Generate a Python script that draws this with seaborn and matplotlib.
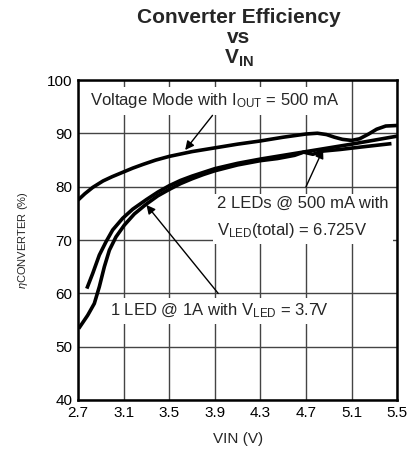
import pandas as pd
import matplotlib
matplotlib.use("Agg")
import matplotlib.pyplot as plt
import seaborn as sns

# Curve data (VIN in volts, efficiency in %)
vm_vin = [2.7, 2.76, 2.83, 2.92, 3.0, 3.09, 3.18, 3.27, 3.38, 3.5, 3.7, 3.9, 4.1, 4.3, 4.5, 4.7,
          4.8, 4.88, 4.95, 5.02, 5.1, 5.17, 5.25, 5.32, 5.4, 5.5]
vm_eff = [77.5, 78.7, 79.9, 81.1, 81.9, 82.7, 83.5, 84.2, 85.0, 85.7, 86.6, 87.3, 88.0, 88.6, 89.3, 89.9,
          90.05, 89.8, 89.3, 88.9, 88.7, 89.0, 89.9, 90.8, 91.4, 91.5]

led2_vin = [2.777, 2.829, 2.887, 2.946, 3.004, 3.092, 3.18, 3.3, 3.4, 3.5, 3.6, 3.7, 3.8, 3.9,
            4.1, 4.3, 4.5, 4.7, 4.9, 5.1, 5.3, 5.5]
led2_eff = [60.9, 63.75, 67.2, 69.7, 71.9, 74.1, 75.8, 77.6, 79.0, 80.2, 81.2, 82.0, 82.7, 83.4,
            84.4, 85.2, 85.9, 86.6, 87.3, 88.0, 88.75, 89.5]

led1_vin = [2.706, 2.785, 2.843, 2.887, 2.931, 2.975, 3.033, 3.106, 3.194, 3.296, 3.4, 3.5, 3.6,
            3.7, 3.8, 3.9, 4.1, 4.3, 4.45, 4.6, 4.68, 4.76, 4.85, 5.0, 5.2, 5.45]
led1_eff = [53.4, 55.9, 58.1, 61.25, 65.0, 68.1, 70.6, 72.8, 74.9, 76.7, 78.3, 79.5, 80.6,
            81.5, 82.3, 83.0, 84.1, 84.9, 85.3, 85.9, 86.5, 86.1, 86.7, 87.0, 87.5, 88.1]

x_ticks = [2.7, 3.1, 3.5, 3.9, 4.3, 4.7, 5.1, 5.5]
y_ticks = [40, 50, 60, 70, 80, 90, 100]

sns.set_style("white")
plt.rcParams['font.family'] = ['Liberation Sans', 'DejaVu Sans']
plt.rcParams['mathtext.fontset'] = 'custom'
plt.rcParams['mathtext.rm'] = 'Liberation Sans'
plt.rcParams['mathtext.it'] = 'Liberation Sans:italic'
plt.rcParams['mathtext.bf'] = 'Liberation Sans:bold'

df = pd.concat([
    pd.DataFrame({'vin': vm_vin, 'eff': vm_eff, 'curve': 'vm'}),
    pd.DataFrame({'vin': led2_vin, 'eff': led2_eff, 'curve': 'led2'}),
    pd.DataFrame({'vin': led1_vin, 'eff': led1_eff, 'curve': 'led1'}),
])

fig = plt.figure(figsize=(4.15, 4.53), dpi=100)
ax = fig.add_axes([0.188, 0.117, 0.769, 0.706])

sns.lineplot(data=df, x='vin', y='eff', units='curve', estimator=None,
             color='black', linewidth=2.6, sort=False, ax=ax, zorder=3,
             solid_joinstyle='round', solid_capstyle='butt')

ax.set_xlim(2.7, 5.5)
ax.set_ylim(40, 100)
ax.set_xticks(x_ticks)
ax.set_xticklabels([f"{t:.1f}" for t in x_ticks])
ax.set_yticks(y_ticks)
ax.tick_params(length=0, labelsize=11, pad=4, colors='black')
ax.grid(True, color='#444444', linewidth=1.0)
for s in ax.spines.values():
    s.set_linewidth(1.8)
    s.set_color('black')

ax.set_xlabel('VIN (V)', fontsize=11, labelpad=9)
ax.set_ylabel(r'$\eta$CONVERTER (%)', fontsize=8, labelpad=12)

fig.text(0.575, 0.962, 'Converter Efficiency', ha='center', va='center',
         fontsize=15, fontweight='bold')
fig.text(0.575, 0.918, 'vs', ha='center', va='center', fontsize=15, fontweight='bold')
fig.text(0.575, 0.872, r'$\mathbf{V_{IN}}$', ha='center', va='center', fontsize=15)

box = dict(facecolor='white', edgecolor='none', pad=3)
arrow = dict(arrowstyle='-|>', color='black', lw=1.0, mutation_scale=13, shrinkA=0, shrinkB=0)

ax.text(2.805, 96.1, r'Voltage Mode with I$_{\mathrm{OUT}}$ = 500 mA', fontsize=12,
        ha='left', va='center', bbox=box, zorder=5)
ax.annotate('', xy=(3.64, 86.9), xytext=(3.88, 93.4), arrowprops=arrow, zorder=6)

ax.text(3.92, 74.2, '2 LEDs @ 500 mA with\n' + r'V$_{\mathrm{LED}}$(total) = 6.725V', fontsize=12,
        ha='left', va='center', bbox=box, linespacing=1.7, zorder=5)
ax.annotate('', xy=(4.85, 87.0), xytext=(4.70, 80.0), arrowprops=arrow, zorder=6)

ax.text(2.98, 56.7, r'1 LED @ 1A with V$_{\mathrm{LED}}$ = 3.7V', fontsize=12,
        ha='left', va='center', bbox=box, zorder=5)
ax.annotate('', xy=(3.30, 76.6), xytext=(3.93, 60.0), arrowprops=arrow, zorder=6)

fig.savefig('out.png', dpi=100)
